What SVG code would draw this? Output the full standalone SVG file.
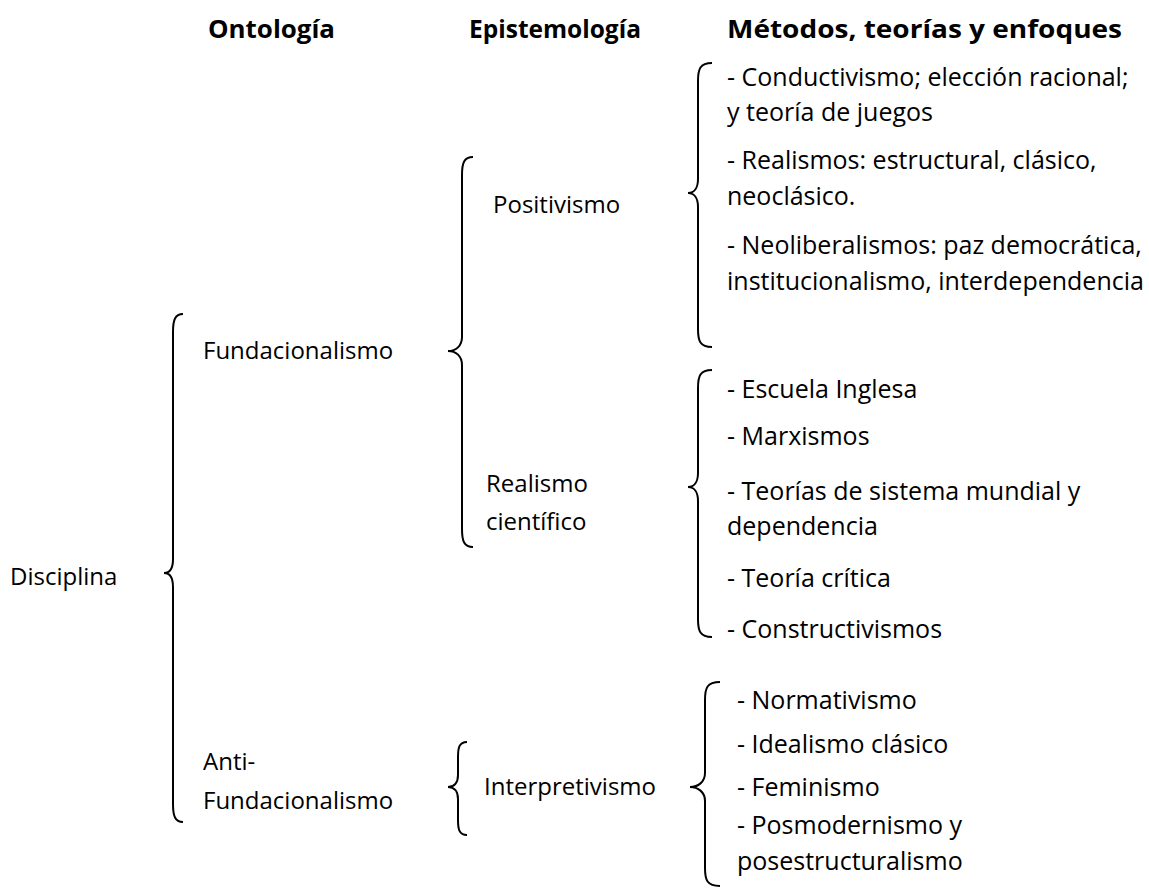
<svg xmlns="http://www.w3.org/2000/svg" width="1149" height="888" viewBox="0 0 1149 888">
<style>
text{font-family:"Open Sans","Noto Sans","DejaVu Sans",sans-serif;font-size:24px;fill:#000}
.h{font-weight:bold;font-size:25px}
.m{font-size:25px}
.b{fill:none;stroke:#000;stroke-width:2}
</style>
<rect width="1149" height="888" fill="#fff"/>
<g id="headers">
<text class="h" x="208" y="38" textLength="127" lengthAdjust="spacingAndGlyphs">Ontología</text>
<text class="h" x="469" y="38" textLength="172" lengthAdjust="spacingAndGlyphs">Epistemología</text>
<text class="h" x="727" y="38" textLength="395" lengthAdjust="spacingAndGlyphs">Métodos, teorías y enfoques</text>
</g>
<g id="connectors">
<path class="b" d="M183,314 C175,314 173,320 173,332 L173,559 C173,568 170,573 164,573 C170,573 173,578 173,587 L173,804 C173,816 175,822 183,822"/>
<path class="b" d="M473,157 C464,157 462,163 462,175 L462,337 C462,346 456,351 448,351 C456,351 462,356 462,365 L462,529 C462,541 464,547 473,547"/>
<path class="b" d="M712,63 C700,63 698,69 698,81 L698,179 C698,188 694,193 688,193 C694,193 698,198 698,207 L698,329 C698,341 700,347 712,347"/>
<path class="b" d="M712,370 C700,370 698,376 698,388 L698,473 C698,482 694,487 688,487 C694,487 698,492 698,501 L698,619 C698,631 700,637 712,637"/>
<path class="b" d="M467,742 C459,742 458,748 458,757 L458,775 C458,783 454,787 448,787 C454,787 458,791 458,799 L458,820 C458,829 459,835 467,835"/>
<path class="b" d="M720,682 C707,682 705,688 705,700 L705,773 C705,782 698,787 690,787 C698,787 705,792 705,801 L705,868 C705,880 707,886 720,886"/>
</g>
<g id="disciplina"><text x="10" y="585">Disciplina</text></g>
<g id="fundacionalismo"><text x="203" y="359">Fundacionalismo</text></g>
<g id="antifundacionalismo"><text x="203" y="770">Anti-</text><text x="203" y="809">Fundacionalismo</text></g>
<g id="positivismo"><text x="493" y="213">Positivismo</text></g>
<g id="realismo"><text x="486" y="492">Realismo</text><text x="486" y="530">científico</text></g>
<g id="interpretivismo"><text x="484" y="795">Interpretivismo</text></g>
<g id="metodos-positivismo">
<text class="m" x="727" y="86">- Conductivismo; elección racional;</text>
<text class="m" x="727" y="121">y teoría de juegos</text>
<text class="m" x="727" y="169">- Realismos: estructural, clásico,</text>
<text class="m" x="727" y="205">neoclásico.</text>
<text class="m" x="727" y="254">- Neoliberalismos: paz democrática,</text>
<text class="m" x="727" y="290">institucionalismo, interdependencia</text>
</g>
<g id="metodos-realismo">
<text class="m" x="727" y="398">- Escuela Inglesa</text>
<text class="m" x="727" y="445">- Marxismos</text>
<text class="m" x="727" y="500">- Teorías de sistema mundial y</text>
<text class="m" x="727" y="535">dependencia</text>
<text class="m" x="727" y="587">- Teoría crítica</text>
<text class="m" x="727" y="638">- Constructivismos</text>
</g>
<g id="metodos-interpretivismo">
<text class="m" x="737" y="709">- Normativismo</text>
<text class="m" x="737" y="753">- Idealismo clásico</text>
<text class="m" x="737" y="796">- Feminismo</text>
<text class="m" x="737" y="834">- Posmodernismo y</text>
<text class="m" x="737" y="870">posestructuralismo</text>
</g>
</svg>
